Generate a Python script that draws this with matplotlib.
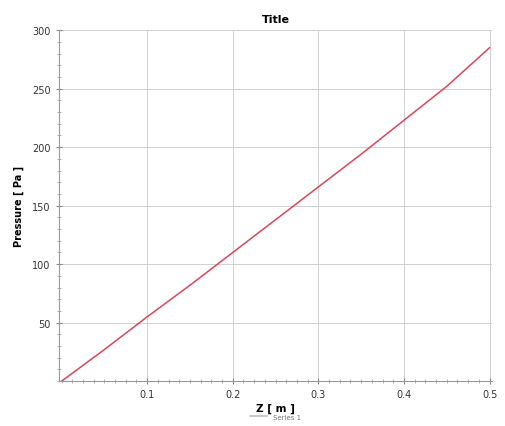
import numpy as np
import matplotlib
matplotlib.use("Agg")
import matplotlib.pyplot as plt
from matplotlib.ticker import AutoMinorLocator, FixedLocator

# data
z = [0.0, 0.05, 0.1, 0.15, 0.2, 0.25, 0.3, 0.35, 0.4, 0.45, 0.5]
pressure = [0.0, 27.0, 55.0, 82.0, 110.0, 138.0, 166.0, 194.0, 223.0, 252.0, 285.0]
x_ticks = [0.1, 0.2, 0.3, 0.4, 0.5]
y_ticks = [50, 100, 150, 200, 250, 300]

fig = plt.figure(figsize=(5.06, 4.27), dpi=100)
ax = fig.add_axes([0.1166, 0.105, 0.856, 0.822])

ax.plot(z, pressure, color='#d9475a', linewidth=1.1, label='Series 1')

ax.set_xlim(-0.003, 0.503)
ax.set_ylim(0, 300)
ax.xaxis.set_major_locator(FixedLocator(x_ticks))
ax.yaxis.set_major_locator(FixedLocator(y_ticks))
ax.xaxis.set_minor_locator(AutoMinorLocator(8))
ax.yaxis.set_minor_locator(AutoMinorLocator(5))

ax.grid(True, which='major', color='#d0d0d0', linewidth=0.7)
ax.tick_params(which='major', direction='inout', length=5, color='#888888',
               labelsize=7, labelcolor='#333333')
ax.tick_params(which='minor', direction='inout', length=3, color='#aaaaaa')
for side in ['top', 'right']:
    ax.spines[side].set_visible(False)
for side in ['left', 'bottom']:
    ax.spines[side].set_color('#999999')

ax.set_title('Title', fontsize=8, fontweight='bold', pad=6)
ax.set_xlabel('Z [ m ]', fontsize=7.5, fontweight='bold', labelpad=2)
ax.set_ylabel('Pressure [ Pa ]', fontsize=7, fontweight='bold', labelpad=6)

leg = ax.legend(loc='upper center', bbox_to_anchor=(0.5, -0.075), frameon=False,
                fontsize=5, handlelength=2.5, labelcolor='#777777')
leg.get_lines()[0].set_color('#bbbbbb')

plt.savefig('out.png', dpi=100)
